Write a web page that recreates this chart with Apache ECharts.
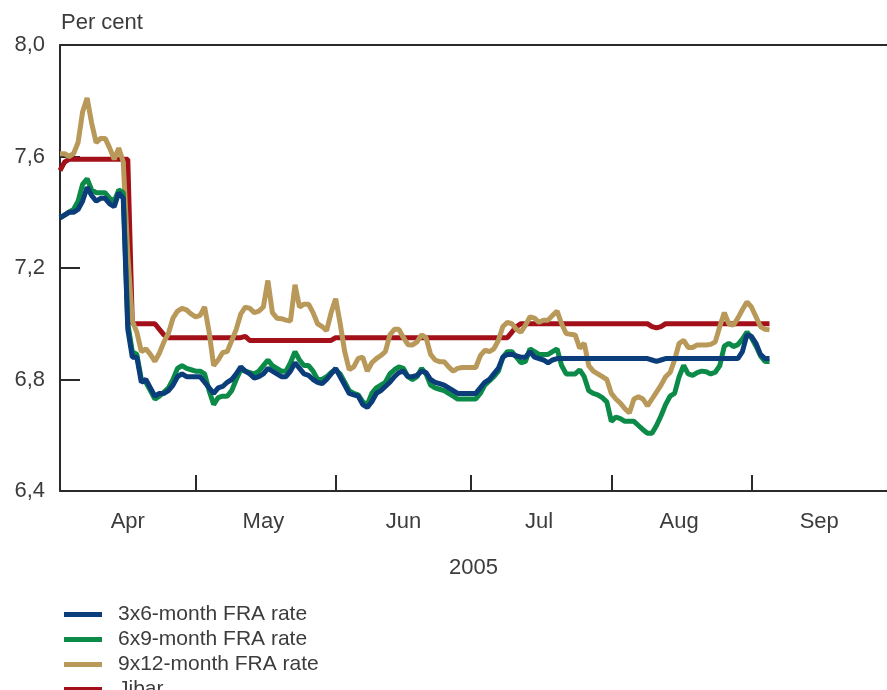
<!DOCTYPE html>
<html>
<head>
<meta charset="utf-8">
<script src="https://cdn.jsdelivr.net/npm/echarts@6/dist/echarts.min.js"></script>
<style>
  html, body { margin: 0; padding: 0; background: #fff; }
  #chart { width: 887px; height: 690px; }
</style>
</head>
<body>
<div id="chart"></div>
<script>
// x axis: one category per calendar day, 1 Apr 2005 .. 1 Oct 2005
var year = 2005;
var monthNames = ['Apr', 'May', 'Jun', 'Jul', 'Aug', 'Sep'];
var yTicks = [6.4, 6.8, 7.2, 7.6, 8.0];

// daily values from 1 Apr 2005 (per cent)
var fra3x6 = [
  7.38, 7.39, 7.40, 7.40, 7.41, 7.44, 7.49, 7.46, 7.44, 7.45,
  7.45, 7.43, 7.42, 7.47, 7.45, 6.98, 6.88, 6.88, 6.79, 6.80,
  6.77, 6.74, 6.75, 6.75, 6.76, 6.78, 6.81, 6.82, 6.81, 6.81,
  6.81, 6.81, 6.79, 6.77, 6.75, 6.77, 6.775, 6.79, 6.80, 6.82,
  6.845, 6.83, 6.82, 6.805, 6.81, 6.82, 6.84, 6.83, 6.82, 6.81,
  6.81, 6.83, 6.86, 6.84, 6.82, 6.815, 6.80, 6.79, 6.785, 6.80,
  6.82, 6.84, 6.81, 6.78, 6.75, 6.745, 6.74, 6.71, 6.70, 6.72,
  6.75, 6.76, 6.775, 6.79, 6.81, 6.825, 6.83, 6.81, 6.81, 6.815,
  6.83, 6.825, 6.80, 6.79, 6.785, 6.78, 6.77, 6.76, 6.75, 6.75,
  6.75, 6.75, 6.75, 6.77, 6.79, 6.80, 6.82, 6.84, 6.88, 6.89,
  6.89, 6.885, 6.88, 6.88, 6.90, 6.88, 6.875, 6.87, 6.86, 6.87,
  6.875, 6.875, 6.875, 6.875, 6.875, 6.875, 6.875, 6.875, 6.875, 6.875,
  6.875, 6.875, 6.875, 6.875, 6.875, 6.875, 6.875, 6.875, 6.875, 6.875,
  6.875, 6.87, 6.865, 6.87, 6.875, 6.875, 6.875, 6.875, 6.875, 6.875,
  6.875, 6.875, 6.875, 6.875, 6.875, 6.875, 6.875, 6.875, 6.875, 6.875,
  6.875, 6.90, 6.96, 6.955, 6.93, 6.89, 6.875, 6.875
];
var fra6x9 = [
  7.38, 7.39, 7.40, 7.41, 7.44, 7.50, 7.52, 7.48, 7.47, 7.47,
  7.47, 7.45, 7.44, 7.48, 7.47, 7.00, 6.90, 6.89, 6.80, 6.79,
  6.76, 6.73, 6.74, 6.755, 6.77, 6.80, 6.84, 6.85, 6.84, 6.835,
  6.83, 6.83, 6.82, 6.76, 6.71, 6.735, 6.74, 6.74, 6.76, 6.80,
  6.835, 6.83, 6.825, 6.82, 6.83, 6.85, 6.87, 6.85, 6.84, 6.83,
  6.83, 6.86, 6.90, 6.87, 6.85, 6.85, 6.83, 6.80, 6.80, 6.81,
  6.825, 6.834, 6.82, 6.79, 6.76, 6.75, 6.745, 6.72, 6.71, 6.75,
  6.77, 6.78, 6.79, 6.82, 6.835, 6.845, 6.84, 6.81, 6.80, 6.81,
  6.84, 6.82, 6.78, 6.77, 6.765, 6.76, 6.75, 6.74, 6.73, 6.73,
  6.73, 6.73, 6.73, 6.75, 6.78, 6.795, 6.81, 6.83, 6.88, 6.90,
  6.90, 6.88, 6.86, 6.865, 6.91, 6.90, 6.89, 6.89, 6.89, 6.90,
  6.91, 6.85, 6.82, 6.82, 6.82, 6.835, 6.81, 6.76, 6.75, 6.745,
  6.735, 6.72, 6.65, 6.665, 6.66, 6.65, 6.65, 6.65, 6.635, 6.62,
  6.607, 6.607, 6.635, 6.67, 6.71, 6.74, 6.75, 6.81, 6.85, 6.82,
  6.815, 6.825, 6.83, 6.828, 6.82, 6.826, 6.85, 6.92, 6.93, 6.918,
  6.925, 6.945, 6.97, 6.95, 6.92, 6.885, 6.865, 6.865
];
var fra9x12 = [
  7.61, 7.61, 7.60, 7.61, 7.65, 7.76, 7.81, 7.72, 7.65, 7.665,
  7.665, 7.63, 7.59, 7.63, 7.58, 7.25, 7.01, 6.97, 6.90, 6.91,
  6.89, 6.865, 6.895, 6.935, 6.966, 7.02, 7.045, 7.055, 7.05, 7.035,
  7.025, 7.03, 7.06, 6.97, 6.85, 6.87, 6.897, 6.90, 6.94, 6.98,
  7.035, 7.06, 7.055, 7.04, 7.045, 7.06, 7.155, 7.04, 7.02, 7.018,
  7.013, 7.01, 7.14, 7.06, 7.07, 7.07, 7.04, 7.00, 6.99, 6.975,
  7.04, 7.09, 7.00, 6.90, 6.835, 6.845, 6.876, 6.88, 6.83, 6.86,
  6.875, 6.886, 6.90, 6.96, 6.98, 6.98, 6.95, 6.925, 6.924, 6.935,
  6.96, 6.95, 6.89, 6.87, 6.864, 6.864, 6.845, 6.83, 6.84, 6.843,
  6.843, 6.843, 6.843, 6.885, 6.905, 6.90, 6.91, 6.94, 6.99, 7.005,
  7.00, 6.98, 6.97, 6.995, 7.025, 7.02, 7.005, 7.013, 7.013, 7.03,
  7.045, 7.00, 6.965, 6.962, 6.96, 6.912, 6.93, 6.85, 6.83, 6.82,
  6.81, 6.80, 6.75, 6.73, 6.715, 6.695, 6.68, 6.73, 6.738, 6.73,
  6.705, 6.73, 6.755, 6.78, 6.81, 6.825, 6.87, 6.93, 6.94, 6.915,
  6.915, 6.924, 6.924, 6.924, 6.926, 6.935, 6.99, 7.04, 7.00, 6.995,
  7.02, 7.05, 7.078, 7.06, 7.025, 6.99, 6.98, 6.978
];
var jibar = [
  7.55, 7.58, 7.59, 7.59, 7.59, 7.59, 7.59, 7.59, 7.59, 7.59,
  7.59, 7.59, 7.59, 7.59, 7.59, 7.59, 7.00, 7.00, 7.00, 7.00,
  7.00, 7.00, 6.98, 6.96, 6.95, 6.95, 6.95, 6.95, 6.95, 6.95,
  6.95, 6.95, 6.95, 6.95, 6.95, 6.95, 6.95, 6.95, 6.95, 6.95,
  6.95, 6.955, 6.94, 6.94, 6.94, 6.94, 6.94, 6.94, 6.94, 6.94,
  6.94, 6.94, 6.94, 6.94, 6.94, 6.94, 6.94, 6.94, 6.94, 6.94,
  6.94, 6.95, 6.95, 6.95, 6.95, 6.95, 6.95, 6.95, 6.95, 6.95,
  6.95, 6.95, 6.95, 6.95, 6.95, 6.95, 6.95, 6.95, 6.95, 6.95,
  6.95, 6.95, 6.95, 6.95, 6.95, 6.95, 6.95, 6.95, 6.95, 6.95,
  6.95, 6.95, 6.95, 6.95, 6.95, 6.95, 6.95, 6.95, 6.95, 6.95,
  6.97, 6.99, 7.00, 7.00, 7.00, 7.00, 7.00, 7.00, 7.00, 7.00,
  7.00, 7.00, 7.00, 7.00, 7.00, 7.00, 7.00, 7.00, 7.00, 7.00,
  7.00, 7.00, 7.00, 7.00, 7.00, 7.00, 7.00, 7.00, 7.00, 7.00,
  7.00, 6.99, 6.985, 6.99, 7.00, 7.00, 7.00, 7.00, 7.00, 7.00,
  7.00, 7.00, 7.00, 7.00, 7.00, 7.00, 7.00, 7.00, 7.00, 7.00,
  7.00, 7.00, 7.00, 7.00, 7.00, 7.00, 7.00, 7.00
];

function pad(n) { return (n < 10 ? '0' : '') + n; }

var days = [];
var d = new Date(Date.UTC(year, 3, 1));
var end = new Date(Date.UTC(year, 9, 1));
while (d <= end) {
  days.push(d.getUTCFullYear() + '-' + pad(d.getUTCMonth() + 1) + '-' + pad(d.getUTCDate()));
  d = new Date(d.getTime() + 86400000);
}

var font = 'Liberation Sans, Arial, sans-serif';
var textCol = '#3c3c3c';
var axisCol = '#2a2a2a';

var chart = echarts.init(document.getElementById('chart'));

var option = {
  animation: false,
  textStyle: { fontFamily: font },
  graphic: [{
    type: 'text',
    left: 61,
    top: 12,
    style: { text: 'Per cent', fontSize: 22, fontFamily: font, fill: textCol }
  }],
  grid: { left: 60, right: 0, top: 45, bottom: 199 },
  legend: {
    orient: 'vertical',
    left: 59,
    top: 599,
    height: 140,
    icon: 'rect',
    itemWidth: 38,
    itemHeight: 5,
    itemGap: 4,
    textStyle: { fontSize: 21, lineHeight: 21, color: textCol, fontFamily: font, padding: [0, 0, 0, 11] },
    data: ['3x6-month FRA rate', '6x9-month FRA rate', '9x12-month FRA rate', 'Jibar']
  },
  xAxis: [{
    type: 'category',
    data: days,
    boundaryGap: false,
    name: String(year),
    nameLocation: 'middle',
    nameGap: 66,
    nameTextStyle: { fontSize: 22, color: textCol, fontFamily: font },
    axisLine: { show: true, onZero: false, lineStyle: { color: axisCol, width: 2 } },
    axisTick: {
      show: true,
      inside: true,
      length: 16,
      lineStyle: { color: axisCol, width: 2 },
      interval: function (i, v) { return i > 0 && i < days.length - 1 && v.slice(8) === '01'; }
    },
    axisLabel: {
      margin: 20,
      fontSize: 22,
      color: textCol,
      fontFamily: font,
      interval: function (i, v) { return v.slice(8) === '16'; },
      formatter: function (v) { return monthNames[parseInt(v.slice(5, 7), 10) - 4]; }
    },
    splitLine: { show: false }
  }, {
    type: 'value',
    position: 'top',
    min: 0,
    max: 1,
    axisLine: { show: true, onZero: false, lineStyle: { color: axisCol, width: 2 } },
    axisTick: { show: false },
    axisLabel: { show: false },
    splitLine: { show: false }
  }],
  yAxis: {
    type: 'value',
    min: yTicks[0],
    max: yTicks[yTicks.length - 1],
    interval: 0.4,
    axisLine: { show: true, lineStyle: { color: axisCol, width: 2 } },
    axisTick: { show: true, inside: true, length: 20, lineStyle: { color: axisCol, width: 2 } },
    axisLabel: {
      margin: 15,
      fontSize: 22,
      color: textCol,
      fontFamily: font,
      formatter: function (v) { return v.toFixed(1).replace('.', ','); }
    },
    splitLine: { show: false }
  },
  series: [
    { name: '3x6-month FRA rate', type: 'line', data: fra3x6, z: 5, color: '#0a3d7a' },
    { name: '6x9-month FRA rate', type: 'line', data: fra6x9, z: 4, color: '#0b8a48' },
    { name: '9x12-month FRA rate', type: 'line', data: fra9x12, z: 3, color: '#b9995a' },
    { name: 'Jibar', type: 'line', data: jibar, z: 2, color: '#a3101a' }
  ].map(function (s) {
    s.symbol = 'none';
    s.smooth = false;
    s.lineStyle = { width: 5, color: s.color };
    return s;
  })
};

chart.setOption(option);
</script>
</body>
</html>
